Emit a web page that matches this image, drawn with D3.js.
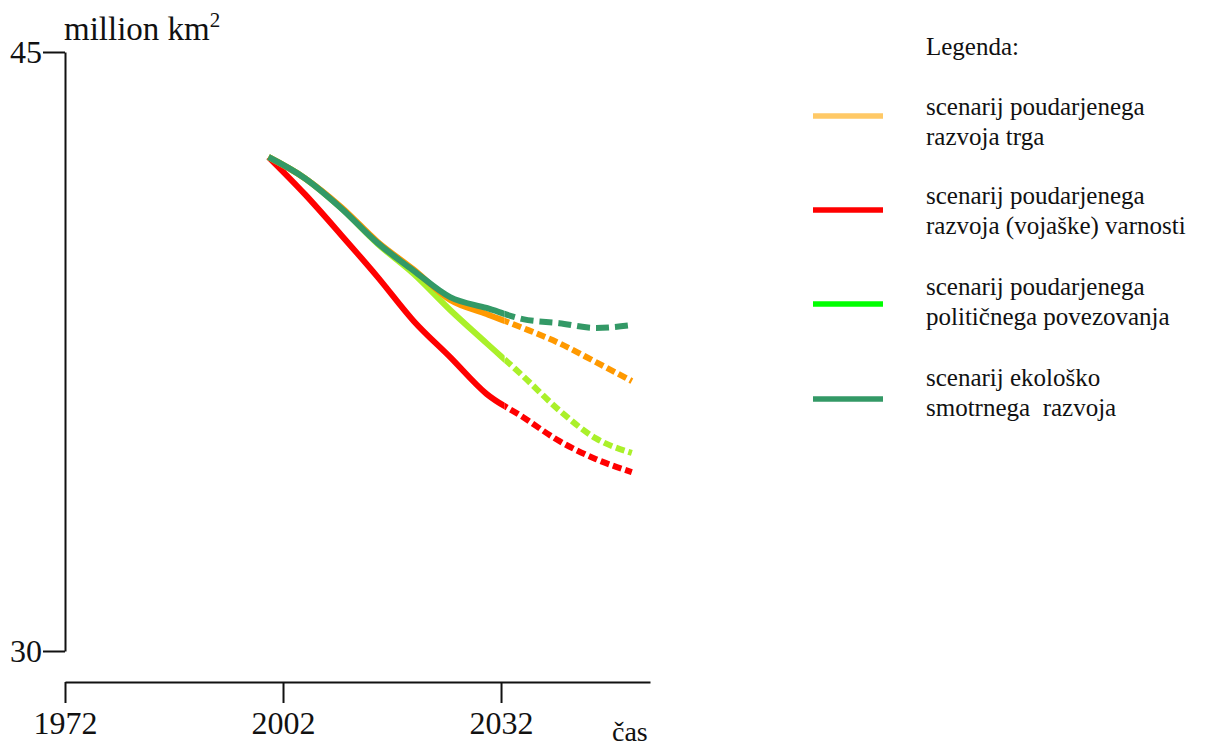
<!DOCTYPE html>
<html><head><meta charset="utf-8">
<script src="https://cdn.jsdelivr.net/npm/d3@7"></script>
<style>
html,body{margin:0;padding:0;background:#fff;}
svg text{font-family:"Liberation Serif","Times New Roman",Times,"DejaVu Serif",serif !important;fill:#111;}
</style></head>
<body>
<svg id="c" width="1207" height="747"></svg>
<script>
const years = [2000, 2005, 2010, 2015, 2020, 2025, 2030, 2035, 2040, 2045, 2050];
const trgValues      = [42.37, 41.84, 41.12, 40.25, 39.55, 38.79, 38.44, 38.09, 37.71, 37.24, 36.76];
const varnostValues  = [42.37, 41.44, 40.42, 39.37, 38.26, 37.36, 36.44, 35.86, 35.26, 34.81, 34.48];
const politicValues  = [42.37, 41.84, 41.09, 40.20, 39.44, 38.54, 37.71, 36.89, 36.03, 35.33, 34.96];
const ekoloValues    = [42.37, 41.84, 41.09, 40.22, 39.52, 38.86, 38.59, 38.31, 38.21, 38.09, 38.16];
const xTickYears = [1972, 2002, 2032];
const yTickValues = [30, 45];
const dashFromYear = 2032.5;
const legendLabels = [
  ["scenarij poudarjenega", "razvoja trga"],
  ["scenarij poudarjenega", "razvoja (vojaške) varnosti"],
  ["scenarij poudarjenega", "političnega povezovanja"],
  ["scenarij ekološko", "smotrnega  razvoja"]
];

const lineColors   = ["#FF9900", "#FF0000", "#AAF02A", "#339966"];
const legendColors = ["#FFC966", "#FF0000", "#00FF00", "#339966"];
const seriesValues = [trgValues, varnostValues, politicValues, ekoloValues];
const SERIF = '"Liberation Serif","Times New Roman",Times,"DejaVu Serif",serif';

const svg = d3.select("#c");
const x = d3.scaleLinear().domain([1972, 2052.5]).range([65, 650]);
const y = d3.scaleLinear().domain([30, 45]).range([651, 52]);

// y axis
const yAx = svg.append("g").attr("transform", "translate(65,0)")
  .call(d3.axisLeft(y).tickValues(yTickValues).tickSize(22).tickSizeOuter(0).tickPadding(1).tickFormat(d3.format("d")));
yAx.attr("font-family", SERIF);
yAx.selectAll("path,line").attr("stroke", "#111").attr("stroke-width", 2);
yAx.selectAll("text").attr("font-size", 32).attr("dy", "0.32em").attr("fill", "#111");

// x axis
const xAx = svg.append("g").attr("transform", "translate(0,682)")
  .call(d3.axisBottom(x).tickValues(xTickYears).tickSize(21).tickSizeOuter(0).tickPadding(8).tickFormat(d3.format("d")));
xAx.attr("font-family", SERIF);
xAx.selectAll("path,line").attr("stroke", "#111").attr("stroke-width", 2);
xAx.selectAll("text").attr("font-size", 32).attr("fill", "#111");

svg.append("text").attr("x", 612).attr("y", 741).attr("font-size", 28).attr("font-family", SERIF).text("čas");

const unit = svg.append("text").attr("x", 64).attr("y", 40).attr("font-size", 33).attr("font-family", SERIF);
unit.append("tspan").text("million km");
unit.append("tspan").attr("font-size", 21).attr("dy", -13).text("2");

// clip paths
const defs = svg.append("defs");
defs.append("clipPath").attr("id", "solidClip").append("rect")
  .attr("x", 0).attr("y", 0).attr("width", x(dashFromYear)).attr("height", 747);
defs.append("clipPath").attr("id", "dashClip").append("rect")
  .attr("x", x(dashFromYear)).attr("y", 0).attr("width", 1207 - x(dashFromYear)).attr("height", 747);

const line = d3.line().x(d => x(d[0])).y(d => y(d[1])).curve(d3.curveMonotoneX);
const drawOrder = [1, 2, 0, 3];
drawOrder.forEach(i => {
  const pts = years.map((yr, k) => [yr, seriesValues[i][k]]);
  svg.append("path").attr("d", line(pts)).attr("fill", "none")
    .attr("stroke", lineColors[i]).attr("stroke-width", 6).attr("stroke-linejoin", "round")
    .attr("clip-path", "url(#solidClip)");
  svg.append("path").attr("d", line(pts)).attr("fill", "none")
    .attr("stroke", lineColors[i]).attr("stroke-width", 6)
    .attr("stroke-dasharray", i === 3 ? "13,6" : "9,4")
    .attr("clip-path", "url(#dashClip)");
});

// legend
svg.append("text").attr("x", 926).attr("y", 55).attr("font-size", 25).attr("font-family", SERIF).text("Legenda:");
const legendLineY = [116, 210, 304, 399];
const legendTextY = [115, 204, 295, 386];
legendLabels.forEach((lab, i) => {
  svg.append("line").attr("x1", 813).attr("x2", 883).attr("y1", legendLineY[i]).attr("y2", legendLineY[i])
    .attr("stroke", legendColors[i]).attr("stroke-width", 5.5);
  const t = svg.append("text").attr("x", 926).attr("y", legendTextY[i]).attr("font-size", 25)
    .attr("font-family", SERIF).attr("xml:space", "preserve").style("white-space", "pre");
  t.append("tspan").attr("x", 926).text(lab[0]);
  t.append("tspan").attr("x", 926).attr("dy", 29.5).text(lab[1]);
});
</script>
</body></html>
